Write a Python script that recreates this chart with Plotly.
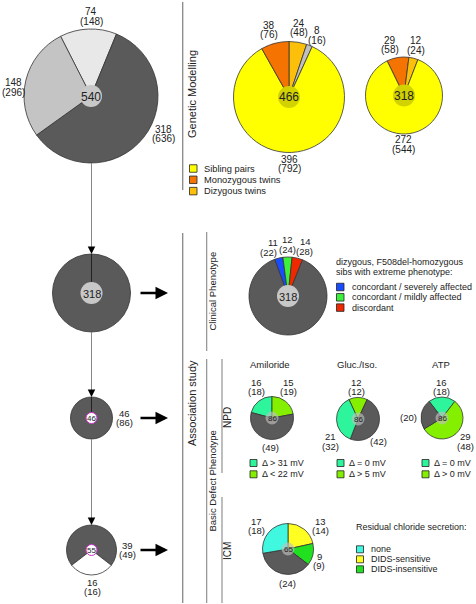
import plotly.graph_objects as go

W, H = 476, 604
FONT = "Liberation Sans, Arial, sans-serif"

# ---------------- data ----------------
# overview of all families (pairs) and siblings
overview_categories = ["74 group", "F508del-homozygous", "148 group"]
overview_pairs = [74, 318, 148]
overview_sibs = [148, 636, 296]
overview_total = 540

# genetic modelling, all pairs
gm_categories = ["Dizygous twins", "Other", "Sibling pairs", "Monozygous twins"]
gm_pairs = [24, 8, 396, 38]
gm_sibs = [48, 16, 792, 76]
gm_total = 466

# genetic modelling, F508del-homozygous
gm2_categories = ["Monozygous twins", "Dizygous twins", "Sibling pairs"]
gm2_pairs = [29, 12, 272]
gm2_sibs = [58, 24, 544]
gm2_total = 318

# clinical phenotype
clin_categories = ["concordant / severely affected", "concordant / mildly affected", "discordant", "other"]
clin_pairs = [11, 12, 14, 281]
clin_sibs = [22, 24, 28]
clin_total = 318

# left column
npd_families, npd_sibs = 46, 86
icm_left_categories = ["measured", "not measured"]
icm_left_families = [39, 16]
icm_left_sibs = [49, 16]
icm_left_total = 55

# NPD
amil_categories = ["Δ > 31 mV", "Δ < 22 mV", "other"]
amil_sibs = [18, 19, 49]
amil_families = [16, 15]
gluc_categories = ["Δ > 5 mV", "other", "Δ = 0 mV"]
gluc_sibs = [12, 42, 32]
gluc_families = [12, 21]
atp_categories = ["Δ = 0 mV", "Δ > 0 mV", "other"]
atp_sibs = [18, 48, 20]
atp_families = [16, 29]
npd_total = 86

# ICM
icm_categories = ["DIDS-sensitive", "DIDS-insensitive", "other", "none"]
icm_sibs = [14, 9, 24, 18]
icm_families = [13, 9, 17]
icm_total = 65

# ---------------- colours ----------------
DARK = "#5a5a5a"
LGRAY = "#c4c4c4"
VLGRAY = "#e8e8e8"
YELLOW = "#ffff00"
ORANGE = "#f57300"
DIZ = "#fdc00a"
SMALLG = "#c0c0c0"
BLUE = "#1a4cff"
CGREEN = "#3cf03c"
RED = "#f02800"
NCYAN = "#2ef59b"
NGREEN = "#84f000"
ICYAN = "#40f8e0"
IYELLOW = "#ffff22"
IGREEN = "#20e020"

fig = go.Figure()


def px(x):
    return x / W


def py(y):
    return 1 - y / H


def pie(cx, cy, r, values, colors, rotation):
    fig.add_trace(go.Pie(
        values=values,
        marker=dict(colors=colors, line=dict(color="#333333", width=0.8)),
        domain=dict(x=[px(cx - r), px(cx + r)], y=[py(cy + r), py(cy - r)]),
        sort=False, direction="clockwise", rotation=rotation,
        textinfo="none", hoverinfo="skip", showlegend=False,
    ))


shapes = []
annotations = []


def disc(cx, cy, r, fill, line="rgba(0,0,0,0)", lw=0):
    shapes.append(dict(type="circle", xref="paper", yref="paper",
                       x0=px(cx - r), x1=px(cx + r), y0=py(cy + r), y1=py(cy - r),
                       fillcolor=fill, line=dict(color=line, width=lw), layer="above"))


def line(x0, y0, x1, y1, color="#888888", width=1.2):
    shapes.append(dict(type="line", xref="paper", yref="paper",
                       x0=px(x0), x1=px(x1), y0=py(y0), y1=py(y1),
                       line=dict(color=color, width=width), layer="above"))


def square(x, y, color, s=7.5):
    shapes.append(dict(type="rect", xref="paper", yref="paper",
                       x0=px(x), x1=px(x + s), y0=py(y + s / 2), y1=py(y - s / 2),
                       fillcolor=color, line=dict(color="#222222", width=0.8), layer="above"))


def txt(x, y, s, size=9.5, anchor="center", angle=0, color="#222222"):
    annotations.append(dict(text=s, x=px(x), y=py(y), xref="paper", yref="paper",
                            xanchor=anchor, yanchor="middle", showarrow=False,
                            textangle=angle, borderpad=0,
                            font=dict(family=FONT, size=size, color=color)))


def arrow(x, y, ax, ay, width=1.0, size=1.0, color="black"):
    annotations.append(dict(text="", x=px(x), y=py(y), xref="paper", yref="paper",
                            ax=ax, ay=ay, showarrow=True, arrowhead=2, arrowsize=size,
                            arrowwidth=width, arrowcolor=color, standoff=0))


def pair_label(x, y, a, b, size=9.5, gap=9.5):
    if a is not None:
        txt(x, y, str(a), size)
    txt(x, y + gap, "(%s)" % b, size)


# ---------------- overview pie ----------------
pie(91, 96, 67, overview_pairs, [VLGRAY, DARK, LGRAY], -27)
disc(91, 96, 11, "#c8c8c8")
txt(91, 96.5, str(overview_total), 12)
pair_label(91, 12, overview_pairs[0], overview_sibs[0], 10)
pair_label(13, 83, overview_pairs[2], overview_sibs[2], 10)
pair_label(163, 129, overview_pairs[1], overview_sibs[1], 10)

# connector to 318 pie
line(91.5, 163, 91.5, 248, "#888888", 1)
arrow(91.5, 254, 0, -7, 1, 1.5)

# 318 pie (left column)
pie(91.5, 293, 39, [overview_pairs[1]], [DARK], 0)
line(91.5, 254, 91.5, 282, "#222222", 1)
disc(91.5, 293, 11, "#c8c8c8")
txt(91.5, 293.5, str(overview_pairs[1]), 11)
arrow(168, 293, -29, 0, 2.5, 1)

# connector to 46 pie
line(91.5, 332, 91.5, 391, "#888888", 1)
arrow(91.5, 397, 0, -7, 1, 1.5)
pie(91.5, 418, 21, [npd_families], [DARK], 0)
line(91.5, 397, 91.5, 412, "#222222", 1)
disc(91.5, 418, 5.5, "white", "#cc33cc", 1)
txt(91.5, 418.5, str(npd_families), 8)
pair_label(124, 413, npd_families, npd_sibs)
arrow(168, 418, -29, 0, 2.5, 1)

# connector to 55 pie
line(91.5, 439, 91.5, 518, "#888888", 1)
arrow(91.5, 525, 0, -7, 1, 1.5)
pie(91.5, 550, 25, icm_left_families, [DARK, "white"], -127.6)
disc(91.5, 550, 5.5, "white", "#cc33cc", 1)
txt(91.5, 550.5, str(icm_left_total), 8)
pair_label(127, 545, icm_left_families[0], icm_left_sibs[0])
pair_label(92, 582, icm_left_families[1], icm_left_sibs[1])
arrow(168, 550, -29, 0, 2.5, 1)

# ---------------- section lines ----------------
line(182.7, 2, 182.7, 190, "#888888", 1.3)
line(182.7, 233, 182.7, 603, "#888888", 1.3)
line(206.7, 232, 206.7, 351, "#888888", 1.1)
line(206.7, 359, 206.7, 603, "#888888", 1.1)
line(222, 359, 222, 473, "#888888", 1.1)
line(222, 497, 222, 603, "#888888", 1.1)

txt(192, 94, "Genetic Modelling", 11, angle=-90)
txt(192, 403, "Association study", 11, angle=-90)
txt(211.5, 291, "Clinical Phenotype", 9.5, angle=-90)
txt(211.5, 481, "Basic Defect Phenotype", 9.5, angle=-90)
txt(227, 418, "NPD", 10, angle=-90)
txt(227, 551, "ICM", 10, angle=-90)

# ---------------- genetic modelling ----------------
pie(289, 97, 55.5, gm_pairs, [DIZ, SMALLG, YELLOW, ORANGE], 0)
disc(289, 97, 11, "#d2d200")
txt(289, 97.5, str(gm_total), 12)
pair_label(269, 25, gm_pairs[3], gm_sibs[3], 10)
pair_label(299, 23, gm_pairs[0], gm_sibs[0], 10)
pair_label(317, 31, gm_pairs[1], gm_sibs[1], 10)
pair_label(289, 159, gm_pairs[2], gm_sibs[2], 10)

pie(404, 95.5, 38.5, gm2_pairs, [ORANGE, DIZ, YELLOW], -26)
disc(404, 95.5, 11, "#d2d200")
txt(404, 96, str(gm2_total), 12)
pair_label(390, 40, gm2_pairs[0], gm2_sibs[0], 10)
pair_label(416, 41, gm2_pairs[1], gm2_sibs[1], 10)
pair_label(403, 140, gm2_pairs[2], gm2_sibs[2], 10)

for i, (lab, col) in enumerate(zip(["Sibling pairs", "Monozygous twins", "Dizygous twins"],
                                   [YELLOW, ORANGE, DIZ])):
    square(189.5, 168.5 + i * 11.3, col)
    txt(203, 168.5 + i * 11.3, lab, 9.3, anchor="left")

# ---------------- clinical phenotype ----------------
pie(288, 296, 39, clin_pairs, [BLUE, CGREEN, RED, DARK], -20)
disc(288, 296, 11, "#c8c8c8")
txt(288, 296.5, str(clin_total), 11)
txt(273.3, 242.3, str(clin_pairs[0]))
txt(268.5, 252.3, "(%d)" % clin_sibs[0])
txt(287, 239, str(clin_pairs[1]))
txt(287.5, 249.3, "(%d)" % clin_sibs[1])
txt(305, 241.7, str(clin_pairs[2]))
txt(304.5, 251.7, "(%d)" % clin_sibs[2])

txt(335, 262, "dizygous, F508del-homozygous", 9, anchor="left")
txt(335, 271.5, "sibs with extreme phenotype:", 9, anchor="left")
for i, (lab, col) in enumerate(zip(clin_categories[:3], [BLUE, CGREEN, RED])):
    square(336.5, 287 + i * 10.3, col)
    txt(351, 287 + i * 10.3, lab, 9, anchor="left")

# ---------------- NPD ----------------
txt(270, 364, "Amiloride", 9.5)
txt(357, 364, "Gluc./Iso.", 9.5)
txt(441, 364, "ATP", 9.5)

NPD_DISC = "rgba(190,190,190,0.65)"
pie(272, 418, 21.5, amil_sibs, [NCYAN, NGREEN, DARK], -75.3)
disc(272, 418, 6.5, NPD_DISC)
txt(272, 418.5, str(npd_total), 8)
pair_label(256.7, 382.3, amil_families[0], amil_sibs[0], gap=8.8)
pair_label(288.3, 382.3, amil_families[1], amil_sibs[1], gap=8.8)
txt(270, 447.7, "(%d)" % amil_sibs[2])

pie(358, 419, 21.5, gluc_sibs, [NGREEN, DARK, NCYAN], -25)
disc(358, 419, 6.5, NPD_DISC)
txt(358, 419.5, str(npd_total), 8)
pair_label(356.7, 382.3, gluc_families[0], gluc_sibs[0], gap=8.8)
pair_label(330.5, 436.7, gluc_families[1], gluc_sibs[2], gap=9.3)
txt(378.3, 441.7, "(%d)" % gluc_sibs[1])

pie(442, 418, 21, atp_sibs, [NCYAN, NGREEN, DARK], -37.7)
disc(442, 418, 6.5, NPD_DISC)
txt(442, 418.5, str(npd_total), 8)
pair_label(441.7, 382.3, atp_families[0], atp_sibs[0], gap=8.8)
pair_label(465, 436.7, atp_families[1], atp_sibs[1], gap=9.3)
txt(408.3, 417.3, "(%d)" % atp_sibs[2])

for x0, labs in [(250, [amil_categories[0], amil_categories[1]]),
                 (337, [gluc_categories[2], gluc_categories[0]]),
                 (422, [atp_categories[0], atp_categories[1]])]:
    square(x0, 463, NCYAN, 7)
    square(x0, 474.3, NGREEN, 7)
    txt(x0 + 10.5, 463, labs[0], 9, anchor="left")
    txt(x0 + 10.5, 474.3, labs[1], 9, anchor="left")

# ---------------- ICM ----------------
pie(288, 549, 25.5, icm_sibs, [IYELLOW, IGREEN, DARK, ICYAN], 0)
disc(288, 549, 6.5, NPD_DISC)
txt(288, 549.5, str(icm_total), 8)
pair_label(256, 521.5, icm_families[2], icm_sibs[3], gap=9)
pair_label(320, 521.5, icm_families[0], icm_sibs[0], gap=9)
pair_label(319, 556, icm_families[1], icm_sibs[1], gap=9.3)
txt(287.7, 583, "(%d)" % icm_sibs[2])

txt(355, 527, "Residual chloride secretion:", 9, anchor="left")
for i, (lab, col) in enumerate(zip(["none", "DIDS-sensitive", "DIDS-insensitive"],
                                   [ICYAN, IYELLOW, IGREEN])):
    square(356.5, 549.3 + i * 10, col, 7)
    txt(370, 549.3 + i * 10, lab, 9, anchor="left")

fig.update_layout(
    width=W, height=H,
    margin=dict(l=0, r=0, t=0, b=0),
    paper_bgcolor="white", plot_bgcolor="white",
    shapes=shapes, annotations=annotations,
    showlegend=False,
)
fig.write_html("out.html",
               config={"displayModeBar": False, "staticPlot": True},
               post_script="document.body.style.margin='0';document.body.style.padding='0';")
